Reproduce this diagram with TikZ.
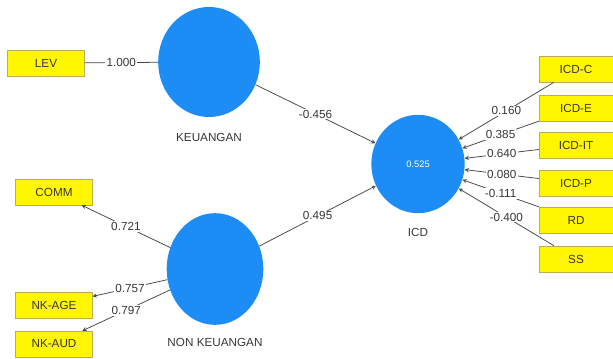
\documentclass[tikz,border=0pt]{standalone}
\usepackage{fontspec}
\setmainfont{Liberation Sans}
\usepackage{tikz}
\usetikzlibrary{shapes.geometric}
\definecolor{lvblue}{RGB}{30,140,245}
\definecolor{indyellow}{RGB}{255,246,0}
\definecolor{indborder}{RGB}{190,170,90}
\definecolor{txtgray}{RGB}{55,55,55}

\begin{document}
\begin{tikzpicture}[x=0.03cm, y=-0.03cm, >=stealth, every node/.style={font=\fontsize{10}{12}\selectfont, text=txtgray}]
\tikzstyle{ind}=[rectangle, draw=indborder, fill=indyellow, minimum width=2.3cm, minimum height=0.78cm, inner sep=0pt]
\tikzstyle{lv}=[ellipse, fill=lvblue, inner sep=0pt]
\tikzstyle{coef}=[fill=white, inner sep=1pt, pos=0.5]
\tikzstyle{path}=[draw=black!72, line width=0.65pt]
\useasboundingbox (0,0) rectangle (613,358);
% latent variables
\node[lv, minimum width=3.05cm, minimum height=3.3cm] (keu) at (209,62) {};
\node[lv, minimum width=2.9cm, minimum height=3.35cm] (nonkeu) at (215,269) {};
\node[lv, minimum width=2.8cm, minimum height=2.95cm] (icd) at (418,164) {\textcolor{white}{\footnotesize 0.525}};
\node at (209,137) {KEUANGAN};
\node at (215,342) {NON KEUANGAN};
\node at (418,232) {ICD};
% indicators
\node[ind] (lev) at (46,63) {LEV};
\node[ind] (comm) at (54,192) {COMM};
\node[ind] (nkage) at (54,305) {NK-AGE};
\node[ind] (nkaud) at (54,344) {NK-AUD};
\node[ind, minimum width=2.22cm] (icdc) at (576,69) {ICD-C};
\node[ind, minimum width=2.22cm] (icde) at (576,108) {ICD-E};
\node[ind, minimum width=2.22cm] (icdit) at (576,145) {ICD-IT};
\node[ind, minimum width=2.22cm] (icdp) at (576,183) {ICD-P};
\node[ind, minimum width=2.22cm] (rd) at (576,220) {RD};
\node[ind, minimum width=2.22cm] (ss) at (576,259) {SS};
% outer model
\draw[path] (lev) -- node[coef] {1.000} (keu);
\draw[path, ->] (nonkeu) -- node[coef] {0.721} (comm);
\draw[path, ->] (nonkeu) -- node[coef] {0.757} (nkage);
\draw[path, ->] (nonkeu) -- node[coef] {0.797} (nkaud);
\draw[path, ->] (icdc) -- node[coef] {0.160} (icd);
\draw[path, ->] (icde) -- node[coef] {0.385} (icd);
\draw[path, ->] (icdit) -- node[coef] {0.640} (icd);
\draw[path, ->] (icdp) -- node[coef] {0.080} (icd);
\draw[path, ->] (rd) -- node[coef] {-0.111} (icd);
\draw[path, ->] (ss) -- node[coef] {-0.400} (icd);
% inner model
\draw[path, ->] (keu) -- node[coef] {-0.456} (icd);
\draw[path, ->] (nonkeu) -- node[coef] {0.495} (icd);
\end{tikzpicture}
\end{document}
